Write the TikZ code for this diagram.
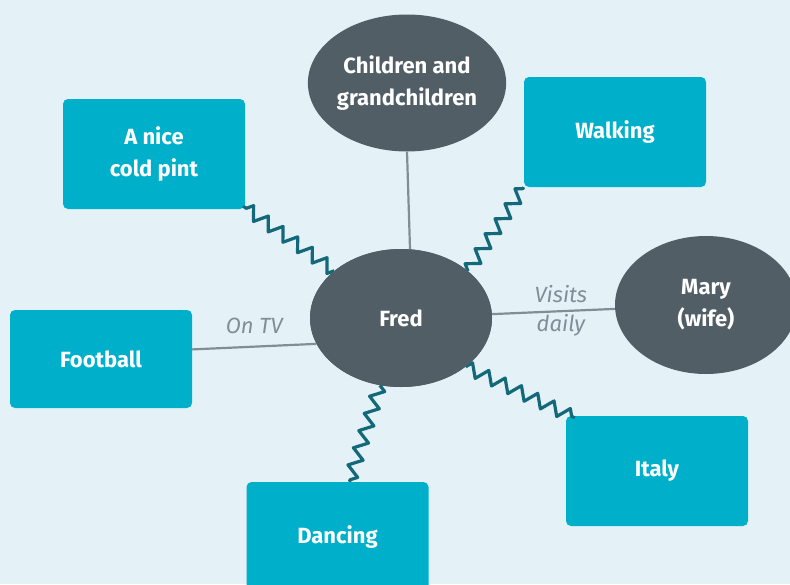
\documentclass[tikz,border=0pt]{standalone}
\usepackage{fontspec}
\setmainfont{Fira Sans}
\usetikzlibrary{decorations.pathmorphing,shapes.geometric}
\definecolor{bgc}{HTML}{E4F2F8}
\definecolor{boxc}{HTML}{00B0CA}
\definecolor{darkc}{HTML}{525E66}
\definecolor{zzc}{HTML}{13697A}
\definecolor{linec}{HTML}{7F8E97}
\tikzset{
  topic/.style={rectangle, rounded corners=5pt, fill=boxc, minimum width=182pt, minimum height=110pt, text=white, align=center, font=\bfseries\fontsize{22}{32}\selectfont},
  person/.style={ellipse, fill=darkc, minimum width=182pt, minimum height=138pt, inner sep=0pt, text=white, align=center, font=\bfseries\fontsize{22}{32}\selectfont},
  zz/.style={draw=zzc, line width=3.2pt, line join=round, decorate, decoration={zigzag, segment length=18pt, amplitude=6.5pt}},
  plain/.style={draw=linec, line width=2.2pt},
  lbl/.style={text=linec, font=\itshape\fontsize{22}{29}\selectfont, align=center, inner sep=1pt}
}
\begin{document}
\begin{tikzpicture}[x=1pt,y=-1pt]
\useasboundingbox (0,0) rectangle (790,584);
\clip (0,0) rectangle (790,584);
\fill[bgc] (0,0) rectangle (790,584);
% nodes
\node[person] (fred) at (401,318) {Fred};
\node[person, minimum height=137pt] (children) at (407,83) {Children and\\grandchildren};
\node[person] (mary) at (706,305) {Mary\\(wife)};
\node[topic] (pint) at (154,154) {A nice\\cold pint};
\node[topic] (walking) at (615,132) {Walking};
\node[topic, minimum height=98pt] (football) at (101,359) {Football};
\node[topic] (italy) at (657,471) {Italy};
\node[topic] (dancing) at (337.5,537) {Dancing};
% helper points
\coordinate (pintend) at ([xshift=-2pt,yshift=3pt]pint.south east);
\coordinate (dancetop) at ([xshift=12pt]dancing.north);
\coordinate (italytop) at ([xshift=9pt,yshift=-2pt]italy.north west);
% connectors
\draw[plain] ([xshift=9pt]fred.north) -- (children.south);
\draw[plain] (fred) -- node[lbl, pos=0.56]{Visits\\daily} (mary);
\draw[plain] (fred.197) -- node[lbl, midway, above=11pt]{On TV} (football.6);
\draw[zz] (fred) -- (pintend);
\draw[zz] (fred.35) -- (walking.south west);
\draw[zz] (fred.-37) -- (italytop);
\draw[zz] (fred) -- (dancetop);
% redraw ellipse on top
\node[person] at (fred.center) {Fred};
\end{tikzpicture}
\end{document}
